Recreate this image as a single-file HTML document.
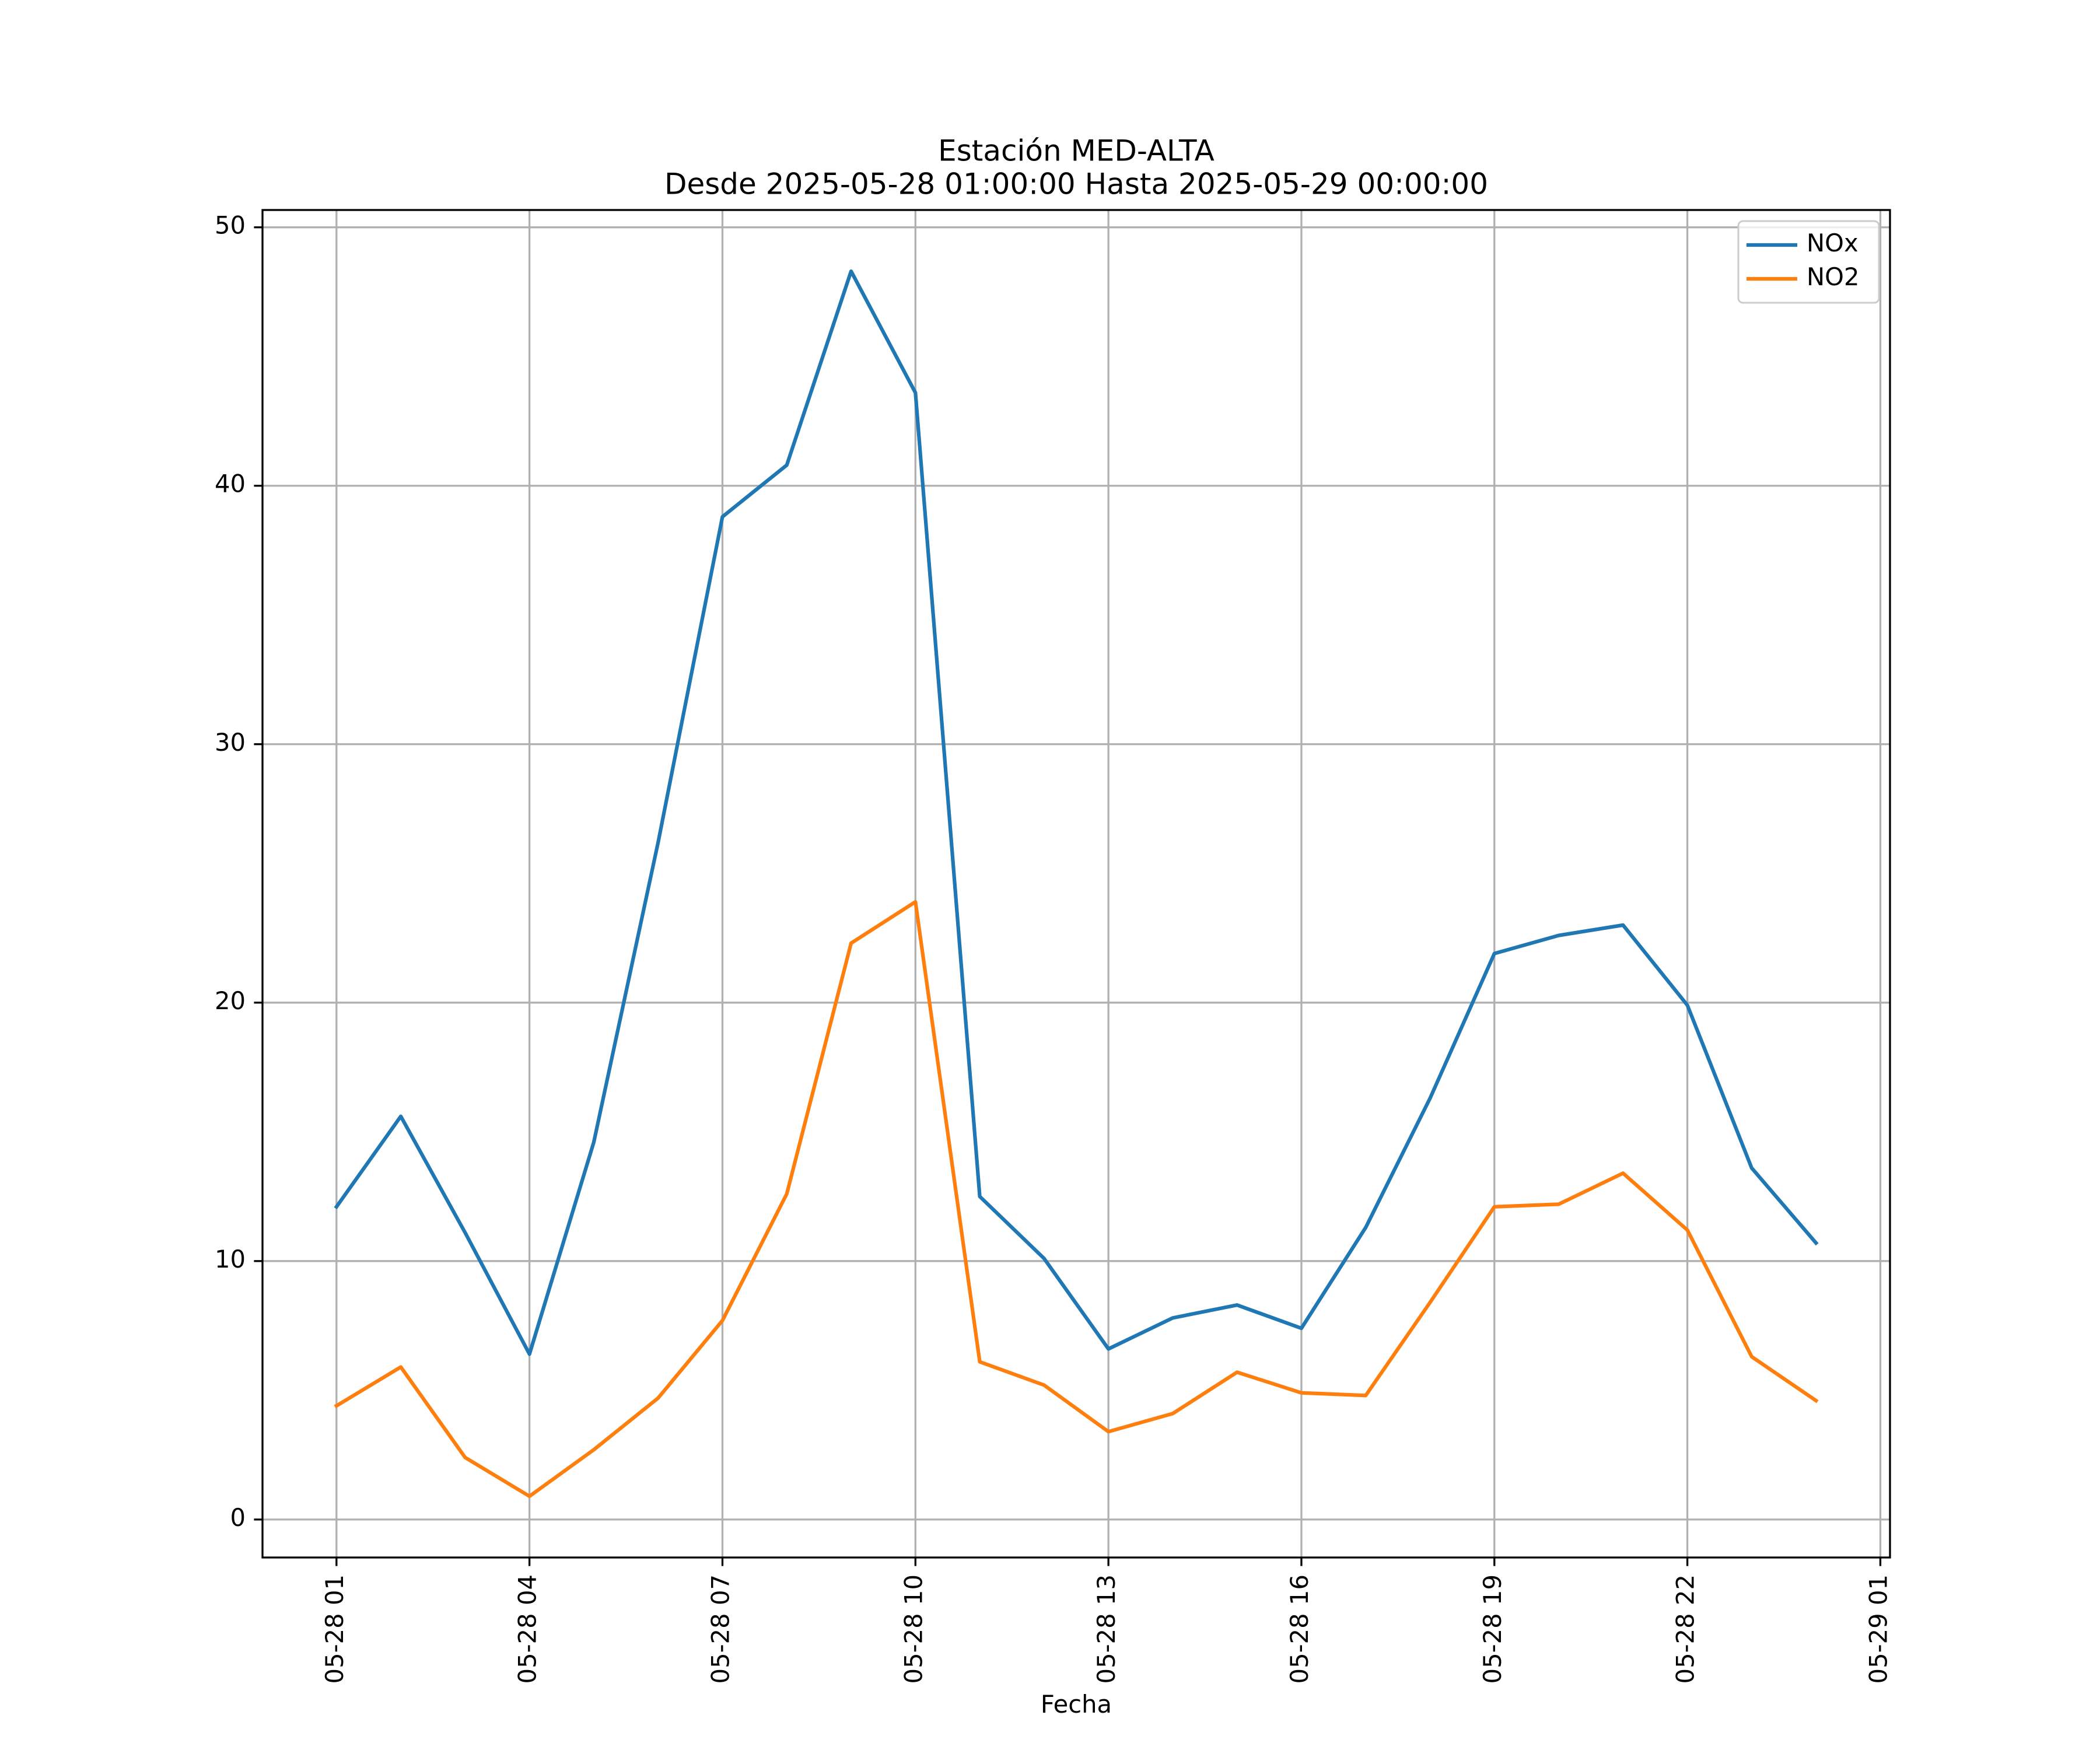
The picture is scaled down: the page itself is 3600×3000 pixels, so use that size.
<!DOCTYPE html>
<html><head><meta charset="utf-8"><style>html,body{margin:0;padding:0;background:#fff}svg{display:block}text{font-family:"DejaVu Sans","Liberation Sans",sans-serif;fill:#000}</style></head>
<body>
<svg id="chart" width="3600" height="3000" viewBox="0 0 3600 3000" xmlns="http://www.w3.org/2000/svg">
<rect width="3600" height="3000" fill="#fff"/>
<text x="1845" y="262" font-size="50" text-anchor="middle" dominant-baseline="middle">Estación MED-ALTA</text>
<text x="1845" y="319" font-size="50" text-anchor="middle" dominant-baseline="middle">Desde 2025-05-28 01:00:00 Hasta 2025-05-29 00:00:00</text>
<g id="grid"></g><g id="series"></g><g id="axes"></g>
<text x="1845" y="2925" font-size="41.7" text-anchor="middle" dominant-baseline="middle">Fecha</text>
<g>
<rect x="2980" y="379" width="241" height="140" rx="8" fill="#fff" fill-opacity="0.8" stroke="#ccc" stroke-width="3"/>
<line x1="2994" y1="420" x2="3081" y2="420" stroke="#1f77b4" stroke-width="6.25"/>
<text x="3097" y="420" font-size="41.7" dominant-baseline="middle">NOx</text>
<line x1="2994" y1="478" x2="3081" y2="478" stroke="#ff7f0e" stroke-width="6.25"/>
<text x="3097" y="478" font-size="41.7" dominant-baseline="middle">NO2</text>
</g>
</svg>
<script>
const hours = [1,2,3,4,5,6,7,8,9,10,11,12,13,14,15,16,17,18,19,20,21,22,23,24];
const noxValues = [12.1,15.6,11.1,6.4,14.6,26.2,38.8,40.8,48.3,43.6,12.5,10.1,6.6,7.8,8.3,7.4,11.3,16.3,21.9,22.6,23.0,19.9,13.6,10.7];
const no2Values = [4.4,5.9,2.4,0.9,2.7,4.7,7.7,12.6,22.3,23.9,6.1,5.2,3.4,4.1,5.7,4.9,4.8,8.4,12.1,12.2,13.4,11.2,6.3,4.6];
const xTickHours = [1,4,7,10,13,16,19,22,25];
const xTickLabels = ["05-28 01","05-28 04","05-28 07","05-28 10","05-28 13","05-28 16","05-28 19","05-28 22","05-29 01"];
const yTicks = [0,10,20,30,40,50];

const L=450,R=3240,T=360,B=2670;
const all=noxValues.concat(no2Values);
const ymin=Math.min(...all),ymax=Math.max(...all),ypad=(ymax-ymin)*0.05;
const y0=ymin-ypad,y1=ymax+ypad;
const x0=hours[0]-(hours[hours.length-1]-hours[0])*0.05,x1=hours[hours.length-1]+(hours[hours.length-1]-hours[0])*0.05;
const sx=h=>L+(h-x0)/(x1-x0)*(R-L);
const sy=v=>B-(v-y0)/(y1-y0)*(B-T);
const NS="http://www.w3.org/2000/svg";
function mk(tag,attrs,parent){const e=document.createElementNS(NS,tag);for(const k in attrs)e.setAttribute(k,attrs[k]);parent.appendChild(e);return e;}
const grid=document.getElementById('grid'),series=document.getElementById('series'),axes=document.getElementById('axes');
xTickHours.forEach((h,i)=>{
  const x=sx(h);
  const g=mk('line',{x1:x,y1:T,x2:x,y2:B,stroke:'#b0b0b0','stroke-width':3.3},grid);
  
  
  const t=mk('line',{x1:x,y1:B,x2:x,y2:B+14.6,stroke:'#000','stroke-width':3.3},axes);
  
  
  const lb=mk('text',{x:0,y:0,'font-size':41.7,'text-anchor':'end','dominant-baseline':'middle',transform:`translate(${x},${B+29}) rotate(-90)`},axes);
  lb.textContent=xTickLabels[i];
  
  
});
yTicks.forEach(v=>{
  const y=sy(v);
  const g=mk('line',{x1:L,y1:y,x2:R,y2:y,stroke:'#b0b0b0','stroke-width':3.3},grid);
  
  
  const t=mk('line',{x1:L-14.6,y1:y,x2:L,y2:y,stroke:'#000','stroke-width':3.3},axes);
  
  
  const lb=mk('text',{x:L-29,y:y,'font-size':41.7,'text-anchor':'end','dominant-baseline':'middle'},axes);
  lb.textContent=String(v);
  
  
});
function line(vals,color,name){
  const p=mk('polyline',{points:vals.map((v,i)=>sx(hours[i])+','+sy(v)).join(' '),fill:'none',stroke:color,'stroke-width':6.25,'stroke-linejoin':'round','stroke-linecap':'square'},series);
  
  
}
line(noxValues,'#1f77b4','nox-line');
line(no2Values,'#ff7f0e','no2-line');
const fr=mk('rect',{x:L,y:T,width:R-L,height:B-T,fill:'none',stroke:'#000','stroke-width':3.3},axes);


</script>
</body></html>
